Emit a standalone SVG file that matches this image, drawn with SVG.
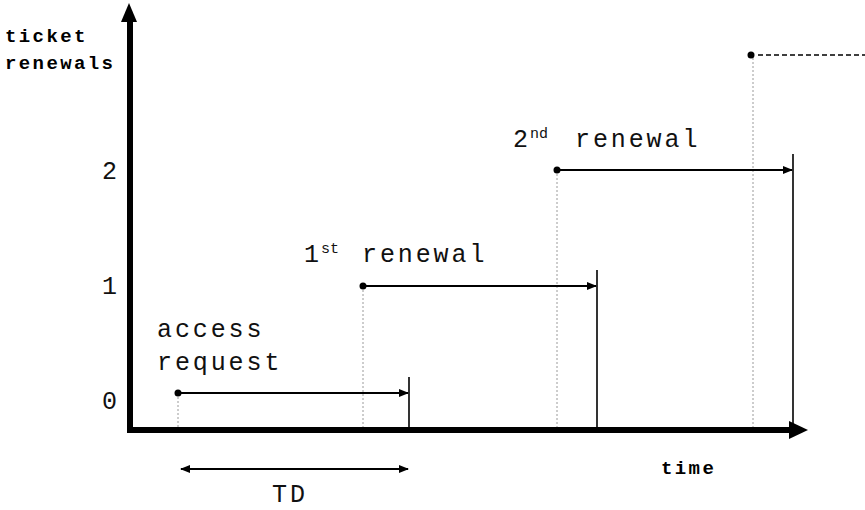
<svg xmlns="http://www.w3.org/2000/svg" width="865" height="510" viewBox="0 0 865 510">
<style>
.lbl{font-family:"Liberation Mono","Courier New",monospace;font-size:25px;letter-spacing:2.9px;fill:#111}
.sup{font-family:"Liberation Mono","Courier New",monospace;font-size:15px;fill:#111}
.bold{font-family:"Liberation Mono","Courier New",monospace;font-size:19px;font-weight:bold;letter-spacing:2.4px;fill:#000}
.axis{stroke:#000;stroke-width:6;fill:none}
.arr{stroke:#000;stroke-width:1.8;fill:none}
.bar{stroke:#000;stroke-width:1.6;fill:none}
.dot{stroke:#9a9a9a;stroke-width:1;stroke-dasharray:2,2;fill:none}
</style>
<defs>
<marker id="ah" markerWidth="10" markerHeight="8" refX="9" refY="4" orient="auto" markerUnits="userSpaceOnUse">
<path d="M0,0 L10,4 L0,8 Z" fill="#000"/>
</marker>
<marker id="ahs" markerWidth="10" markerHeight="8" refX="9" refY="4" orient="auto-start-reverse" markerUnits="userSpaceOnUse">
<path d="M0,0 L10,4 L0,8 Z" fill="#000"/>
</marker>
</defs>
<rect width="865" height="510" fill="#fff"/>

<g id="connectors">
<line class="dot" x1="178" y1="393" x2="178" y2="428"/>
<line class="dot" x1="363" y1="286" x2="363" y2="428"/>
<line class="dot" x1="557" y1="170" x2="557" y2="428"/>
<line class="dot" x1="753" y1="58" x2="753" y2="428"/>
<line class="bar" x1="409" y1="377" x2="409" y2="430"/>
<line class="bar" x1="597" y1="270" x2="597" y2="430"/>
<line class="bar" x1="793" y1="154" x2="793" y2="430"/>
<line class="arr" x1="178" y1="393" x2="408" y2="393" marker-end="url(#ah)"/>
<line class="arr" x1="363" y1="286" x2="596" y2="286" marker-end="url(#ah)"/>
<line class="arr" x1="557" y1="170" x2="792" y2="170" marker-end="url(#ah)"/>
<line x1="758" y1="55" x2="865" y2="55" stroke="#000" stroke-width="1.6" stroke-dasharray="5,3"/>
<line class="arr" x1="181" y1="469" x2="408" y2="469" marker-start="url(#ahs)" marker-end="url(#ah)"/>
</g>

<g id="dots" fill="#000">
<circle cx="178" cy="393" r="3.5"/>
<circle cx="363" cy="286" r="3.5"/>
<circle cx="557" cy="170" r="3.5"/>
<circle cx="751" cy="55" r="3.5"/>
</g>

<g id="axes">
<line class="axis" x1="130" y1="433" x2="130" y2="18"/>
<path d="M121,22 L129,3 L137,22 Z" fill="#000"/>
<line class="axis" x1="127" y1="430" x2="792" y2="430"/>
<path d="M789,421 L808,430 L789,439 Z" fill="#000"/>
</g>

<g id="y-label">
<text class="bold" x="5" y="42">ticket</text>
<text class="bold" x="5" y="69">renewals</text>
</g>
<g id="x-label">
<text class="bold" x="661" y="474">time</text>
</g>

<g id="ticks">
<text class="lbl" x="102" y="179">2</text>
<text class="lbl" x="102" y="294">1</text>
<text class="lbl" x="102" y="409">0</text>
</g>

<g id="access-request">
<text class="lbl" x="157" y="337">access</text>
<text class="lbl" x="157" y="370">request</text>
</g>
<g id="first-renewal">
<text class="lbl" x="304" y="262">1</text>
<text class="sup" x="321" y="253">st</text>
<text class="lbl" x="362" y="262">renewal</text>
</g>
<g id="second-renewal">
<text class="lbl" x="513" y="147">2</text>
<text class="sup" x="530" y="138">nd</text>
<text class="lbl" x="575" y="147">renewal</text>
</g>
<g id="td">
<text class="lbl" x="272" y="502">TD</text>
</g>
</svg>
